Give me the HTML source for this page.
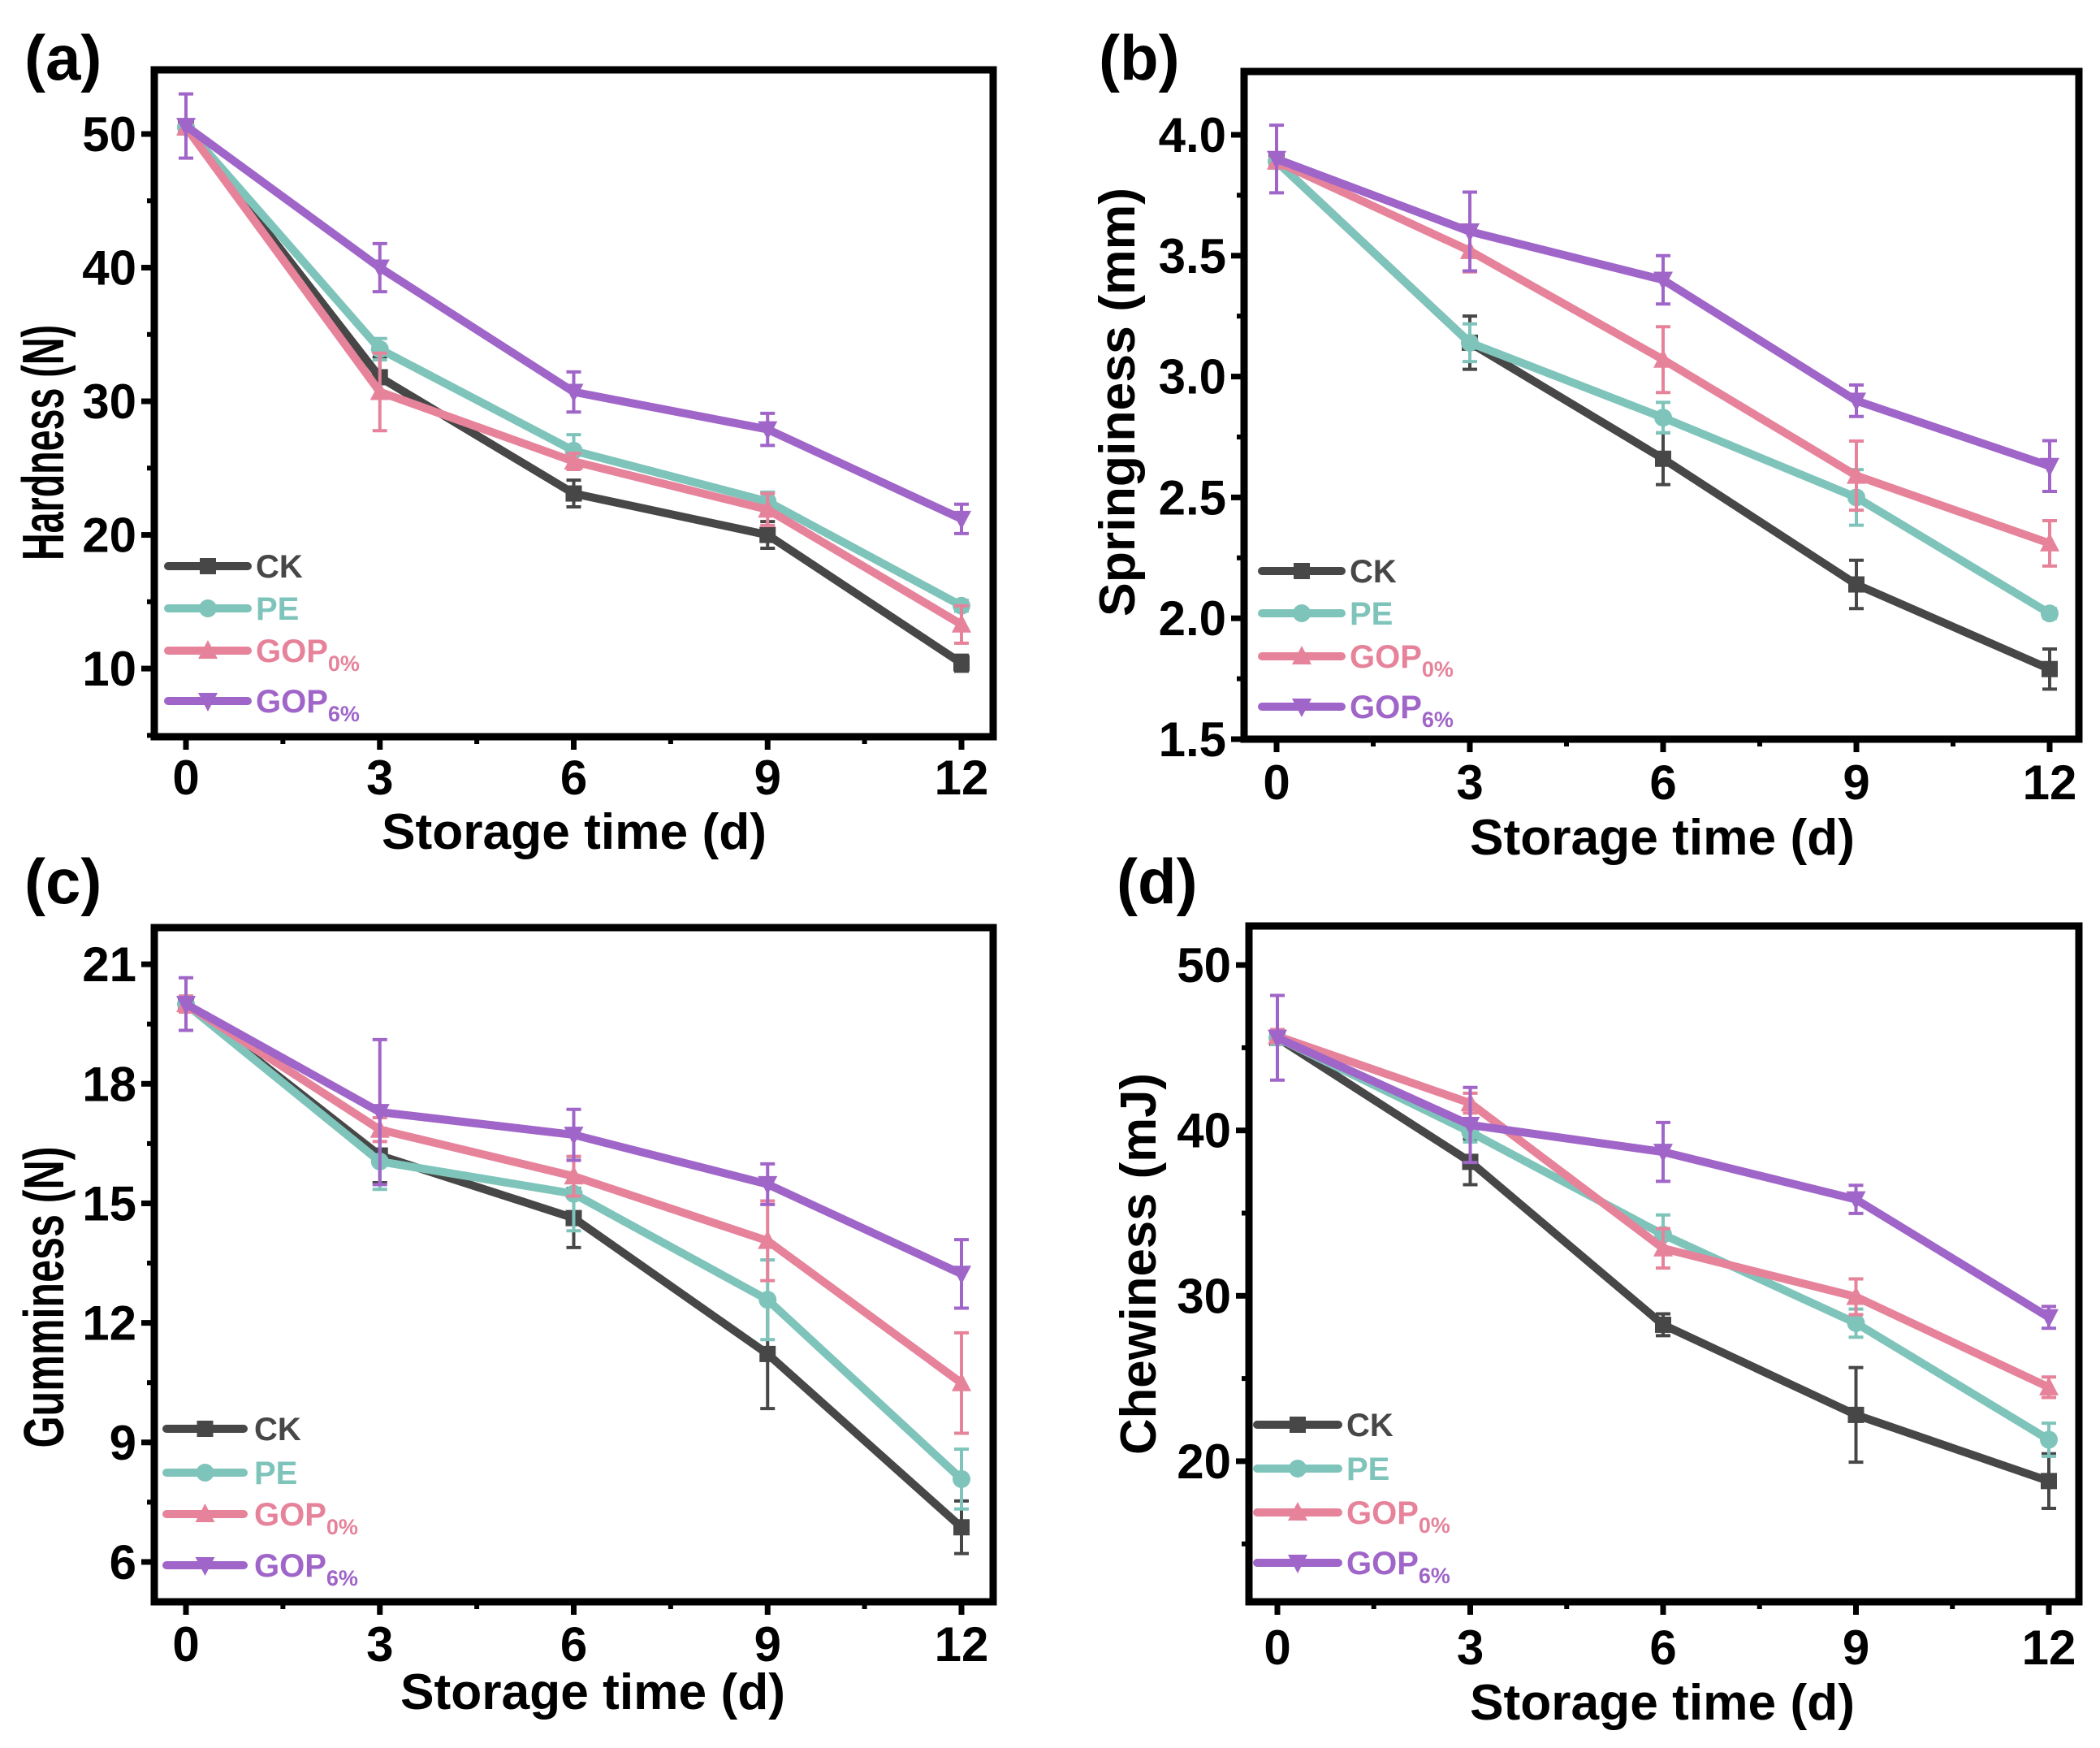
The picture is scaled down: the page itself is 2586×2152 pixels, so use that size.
<!DOCTYPE html>
<html><head><meta charset="utf-8"><style>
html,body{margin:0;padding:0;background:#fff}
svg{display:block;font-family:"Liberation Sans",Arial,sans-serif;font-weight:bold}
</style></head><body>
<svg id="fig" xmlns="http://www.w3.org/2000/svg" width="2586" height="2152" viewBox="0 0 2586 2152">
<rect width="2586" height="2152" fill="#fff"/>
</svg>
<script>
// ---------- data ----------
const days = [0, 3, 6, 9, 12];
const seriesNames = ["CK", "PE", "GOP0", "GOP6"];

const hardCK = [50.5, 31.8, 23.1, 20.0, 10.4];
const hardPE = [50.5, 33.9, 26.3, 22.5, 14.7];
const hardG0 = [50.5, 30.7, 25.5, 21.9, 13.3];
const hardG6 = [50.6, 40.0, 30.7, 27.9, 21.2];
const hardErrCK = [0.4, 1.5, 1.0, 1.0, 0.6];
const hardErrPE = [0.3, 0.8, 1.2, 0.7, 0.4];
const hardErrG0 = [0.3, 2.9, 0.6, 1.2, 1.4];
const hardErrG6 = [2.4, 1.8, 1.5, 1.2, 1.1];

const springCK = [3.89, 3.14, 2.66, 2.14, 1.79];
const springPE = [3.89, 3.14, 2.83, 2.50, 2.02];
const springG0 = [3.89, 3.52, 3.07, 2.59, 2.31];
const springG6 = [3.90, 3.60, 3.40, 2.90, 2.63];
const springErrCK = [0.02, 0.11, 0.107, 0.10, 0.083];
const springErrPE = [0.02, 0.078, 0.063, 0.115, 0.02];
const springErrG0 = [0.02, 0.087, 0.136, 0.143, 0.094];
const springErrG6 = [0.14, 0.163, 0.10, 0.065, 0.105];

const gumCK = [20.0, 16.2, 14.63, 11.22, 6.87];
const gumPE = [20.0, 16.05, 15.24, 12.58, 8.08];
const gumG0 = [20.0, 16.85, 15.68, 14.06, 10.49];
const gumG6 = [20.0, 17.29, 16.72, 15.48, 13.23];
const gumErrCK = [0.2, 0.68, 0.74, 1.37, 0.66];
const gumErrPE = [0.2, 0.7, 0.93, 1.0, 0.75];
const gumErrG0 = [0.2, 0.3, 0.5, 1.0, 1.26];
const gumErrG6 = [0.66, 1.82, 0.64, 0.51, 0.86];

const chewCK = [45.6, 38.1, 28.25, 22.8, 18.8];
const chewPE = [45.6, 39.9, 33.7, 28.35, 21.3];
const chewG0 = [45.7, 41.65, 32.87, 29.94, 24.47];
const chewG6 = [45.6, 40.33, 38.7, 35.83, 28.7];
const chewErrCK = [0.4, 1.38, 0.66, 2.86, 1.65];
const chewErrPE = [0.4, 0.6, 1.19, 0.85, 1.0];
const chewErrG0 = [0.4, 0.6, 1.19, 1.08, 0.62];
const chewErrG6 = [2.56, 2.27, 1.78, 0.85, 0.66];

const xTickLabels = ["0", "3", "6", "9", "12"];
const hardTicks = [10, 20, 30, 40, 50];
const springTicks = [1.5, 2.0, 2.5, 3.0, 3.5, 4.0];
const gumTicks = [6, 9, 12, 15, 18, 21];
const chewTicks = [20, 30, 40, 50];

const colors = {CK:"#474747", PE:"#7fc4bb", GOP0:"#e6839b", GOP6:"#a065c8"};

// ---------- layout ----------
const panels = [
 {id:"a", label:"(a)", lx:30, ly:98, title:"Hardness (N)", tLen:290, tSize:72, tx:54, ty:545,
  L:190, R:1223, T:86, B:907, x0:229, x12:1184, ymin:4.9, ymax:54.8,
  ticks:hardTicks, minor:[5,15,25,35,45], dec:0,
  data:[hardCK,hardPE,hardG0,hardG6], err:[hardErrCK,hardErrPE,hardErrG0,hardErrG6],
  xtY:978, xtitle:{x:707,y:1045}, leg:{x1:207,x2:305,tx:315,ys:[697,749,801,863]}},
 {id:"b", label:"(b)", lx:1353, ly:98, title:"Springiness (mm)", tLen:528, tSize:62, tx:1373, ty:495,
  L:1532, R:2560, T:88, B:910, x0:1572, x12:2524, ymin:1.5, ymax:4.262,
  ticks:springTicks, minor:[1.75,2.25,2.75,3.25,3.75], dec:1,
  data:[springCK,springPE,springG0,springG6], err:[springErrCK,springErrPE,springErrG0,springErrG6],
  xtY:984, xtitle:{x:2047,y:1052}, leg:{x1:1554,x2:1652,tx:1662,ys:[703,755,808,870]}},
 {id:"c", label:"(c)", lx:30, ly:1112, title:"Gumminess (N)", tLen:371, tSize:70, tx:54, ty:1597,
  L:190, R:1223, T:1142, B:1972, x0:229, x12:1184, ymin:5.0, ymax:21.92,
  ticks:gumTicks, minor:[7.5,10.5,13.5,16.5,19.5], dec:0,
  data:[gumCK,gumPE,gumG0,gumG6], err:[gumErrCK,gumErrPE,gumErrG0,gumErrG6],
  xtY:2045, xtitle:{x:730,y:2104}, leg:{x1:205,x2:300,tx:313,ys:[1759,1813,1864,1927]}},
 {id:"d", label:"(d)", lx:1375, ly:1112, title:"Chewiness (mJ)", tLen:470, tSize:62, tx:1399, ty:1556,
  L:1538, R:2560, T:1140, B:1972, x0:1573, x12:2523, ymin:11.5, ymax:52.36,
  ticks:chewTicks, minor:[15,25,35,45], dec:0,
  data:[chewCK,chewPE,chewG0,chewG6], err:[chewErrCK,chewErrPE,chewErrG0,chewErrG6],
  xtY:2049, xtitle:{x:2047,y:2117}, leg:{x1:1548,x2:1648,tx:1658,ys:[1754,1808,1862,1924]}}
];

const NS = "http://www.w3.org/2000/svg";
const svg = document.getElementById("fig");
function mk(tag, attrs, parent){
  const e = document.createElementNS(NS, tag);
  for (const k in attrs) e.setAttribute(k, attrs[k]);
  (parent||svg).appendChild(e);
  return e;
}
function marker(g, kind, cx, cy, col){
  const s = 10;
  let m;
  if (kind === "CK") m = mk("rect",{x:cx-s,y:cy-s,width:2*s,height:2*s,fill:col},g);
  else if (kind === "PE") m = mk("circle",{cx:cx,cy:cy,r:s+1,fill:col},g);
  else if (kind === "GOP0") m = mk("polygon",{points:`${cx},${cy-s-3} ${cx+s+2},${cy+s} ${cx-s-2},${cy+s}`,fill:col},g);
  else m = mk("polygon",{points:`${cx},${cy+s+3} ${cx+s+2},${cy-s} ${cx-s-2},${cy-s}`,fill:col},g);
  return m;
}

panels.forEach(p => {
  const xs = v => p.x0 + (p.x12 - p.x0) * v / 12;
  const ys = v => p.B - (p.B - p.T) * (v - p.ymin) / (p.ymax - p.ymin);
  const g = mk("g", {});
  
  

  const lab = mk("text",{x:p.lx,y:p.ly,"font-size":78,fill:"#000"},g);
  lab.textContent = p.label;
  
  

  p.data.forEach((arr, si) => {
    const name = seriesNames[si];
    const col = colors[name];
    const sg = mk("g",{},g);
    
    
    const pts = arr.map((v,i) => xs(days[i]) + "," + ys(v)).join(" ");
    mk("polyline",{points:pts,fill:"none",stroke:col,"stroke-width":10,"stroke-linejoin":"round"},sg);
    arr.forEach((v,i) => {
      const e = p.err[si][i], cx = xs(days[i]);
      const eb = mk("path",{d:`M${cx},${ys(v+e)}V${ys(v-e)}M${cx-9},${ys(v+e)}H${cx+9}M${cx-9},${ys(v-e)}H${cx+9}`,stroke:col,"stroke-width":4,fill:"none"},sg);
      
      
      const m = marker(sg, name, cx, ys(v), col);
      
      
    });
  });

  const fr = mk("rect",{x:p.L,y:p.T,width:p.R-p.L,height:p.B-p.T,fill:"none",stroke:"#000","stroke-width":9},g);
  
  

  p.ticks.forEach(t => {
    const y = ys(t);
    mk("line",{x1:p.L-16,x2:p.L,y1:y,y2:y,stroke:"#000","stroke-width":7},g);
    const tl = mk("text",{x:p.L-22,y:y+21,"font-size":60,"text-anchor":"end",fill:"#000"},g);
    tl.textContent = t.toFixed(p.dec);
    
    
  });
  p.minor.forEach(t => {
    const y = ys(t);
    mk("line",{x1:p.L-9,x2:p.L,y1:y,y2:y,stroke:"#000","stroke-width":6},g);
  });
  days.forEach((d,i) => {
    const x = xs(d);
    mk("line",{x1:x,x2:x,y1:p.B,y2:p.B+16,stroke:"#000","stroke-width":7},g);
    const tl = mk("text",{x:x,y:p.xtY,"font-size":60,"text-anchor":"middle",fill:"#000"},g);
    tl.textContent = xTickLabels[i];
    
    
  });
  [1.5,4.5,7.5,10.5].forEach(d => {
    const x = xs(d);
    mk("line",{x1:x,x2:x,y1:p.B,y2:p.B+9,stroke:"#000","stroke-width":6},g);
  });
  const xt = mk("text",{x:p.xtitle.x,y:p.xtitle.y,"font-size":62,"text-anchor":"middle",textLength:474,lengthAdjust:"spacingAndGlyphs",fill:"#000"},g);
  xt.textContent = "Storage time (d)";
  
  
  const yt = mk("text",{x:0,y:0,"font-size":p.tSize,"text-anchor":"middle",textLength:p.tLen,lengthAdjust:"spacingAndGlyphs",fill:"#000",transform:`translate(${p.tx+24},${p.ty}) rotate(-90)`},g);
  yt.textContent = p.title;
  
  

  seriesNames.forEach((name, si) => {
    const col = colors[name], y = p.leg.ys[si];
    const lg = mk("g",{},g);
    
    
    mk("line",{x1:p.leg.x1,x2:p.leg.x2,y1:y,y2:y,stroke:col,"stroke-width":10,"stroke-linecap":"round"},lg);
    marker(lg, name, (p.leg.x1+p.leg.x2)/2, y, col);
    const t = mk("text",{x:p.leg.tx,y:y+14,"font-size":40,fill:col},lg);
    if (name === "GOP0" || name === "GOP6") {
      t.textContent = "GOP";
      const sub = mk("tspan",{"font-size":27,dy:11},t);
      sub.textContent = name === "GOP0" ? "0%" : "6%";
    } else t.textContent = name;
  });
});
</script>
</body></html>
